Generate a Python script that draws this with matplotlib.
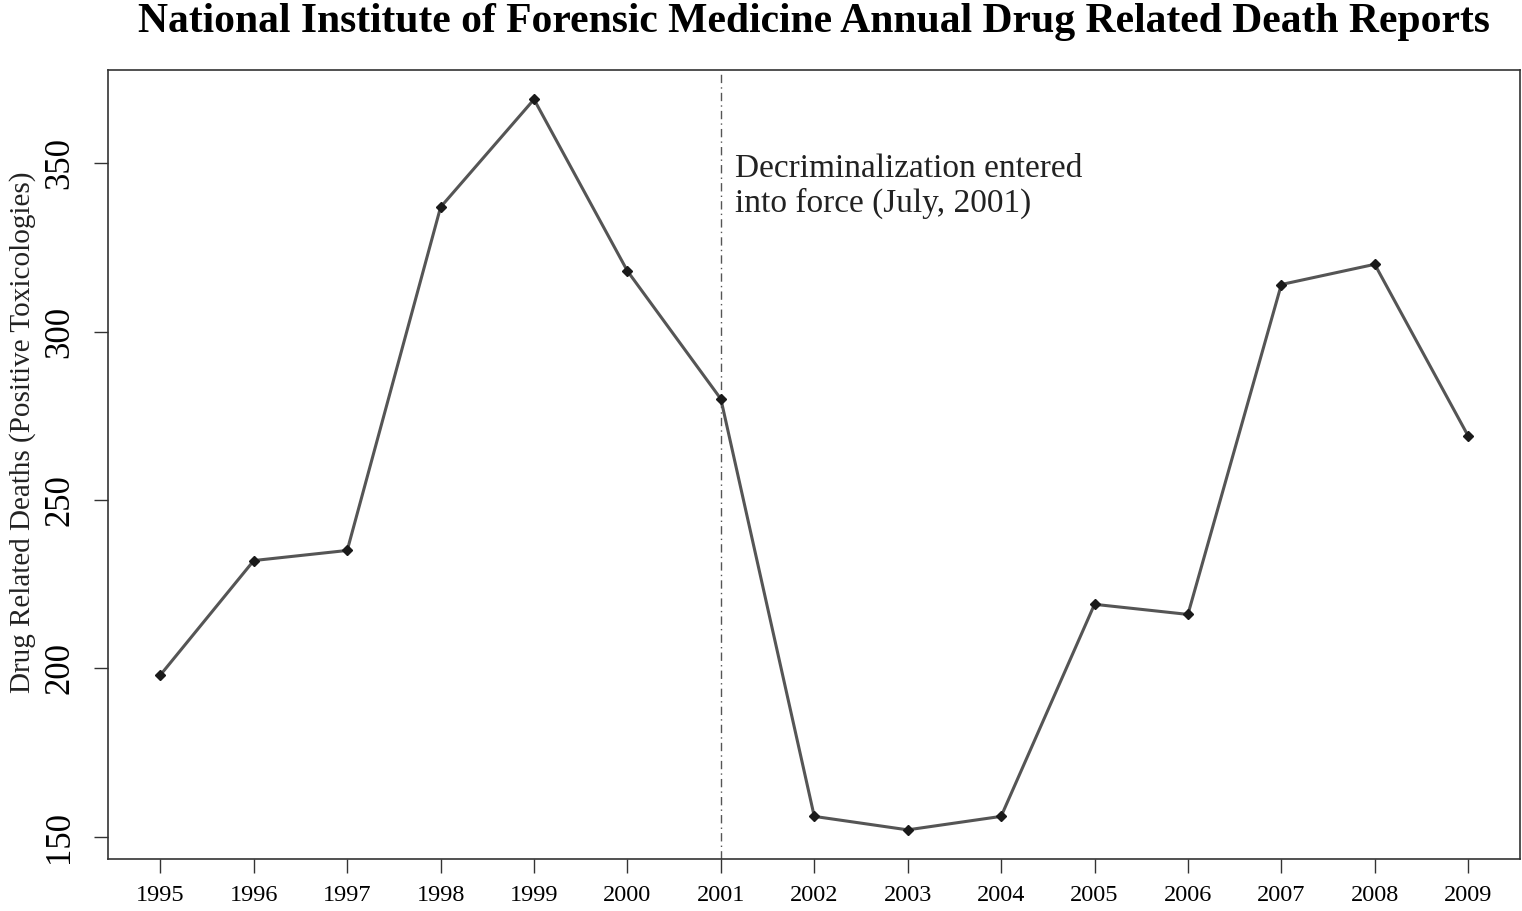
import matplotlib.pyplot as plt
import numpy as np

# annual drug related death reports
years = [1995, 1996, 1997, 1998, 1999, 2000, 2001, 2002, 2003, 2004, 2005, 2006, 2007, 2008, 2009]
deaths = [198, 232, 235, 337, 369, 318, 280, 156, 152, 156, 219, 216, 314, 320, 269]
y_ticks = [150, 200, 250, 300, 350]
decrim_year = 2001

plt.rcParams['font.family'] = ['Liberation Serif', 'DejaVu Serif']

fig = plt.figure(figsize=(15.22, 9.11), dpi=100, facecolor="white")
ax = fig.add_axes([0.071, 0.057, 0.928, 0.866])

ax.plot(years, deaths, color="#555555", linewidth=2.2, zorder=3)
ax.plot(years, deaths, linestyle="none", marker="D", markersize=5.5, color="#1a1a1a", zorder=4)
ax.axvline(decrim_year, color="#555555", linewidth=1.0, linestyle=(0, (6, 3, 1, 3)), zorder=2)
ax.text(decrim_year + 0.15, 353, "Decriminalization entered\ninto force (July, 2001)",
        fontsize=24, color="#222222", va="top", ha="left", linespacing=1.15)

# R-style 4% padding
rng = max(deaths) - min(deaths)
ax.set_xlim(years[0] - 0.04 * (years[-1] - years[0]), years[-1] + 0.04 * (years[-1] - years[0]))
ax.set_ylim(min(deaths) - 0.04 * rng, max(deaths) + 0.04 * rng)

ax.set_xticks(years)
ax.set_xticklabels([str(y) for y in years], fontsize=17.5)
ax.set_yticks(y_ticks)
ax.set_yticklabels([str(v) for v in y_ticks], fontsize=25, rotation=90, va="center")
ax.tick_params(axis="both", length=10, width=1.0, color="#333333", direction="out")
ax.tick_params(axis="x", pad=9)
ax.tick_params(axis="y", pad=13)
for s in ax.spines.values():
    s.set_color("#333333")
    s.set_linewidth(1.2)

ax.set_ylabel("Drug Related Deaths (Positive Toxicologies)", fontsize=21, color="#222222")
ax.yaxis.set_label_coords(-0.051, 0.541)

fig.suptitle("National Institute of Forensic Medicine Annual Drug Related Death Reports",
             fontsize=30, fontweight="bold", x=0.535, y=0.997, va="top")

plt.savefig("out.png", dpi=100)
